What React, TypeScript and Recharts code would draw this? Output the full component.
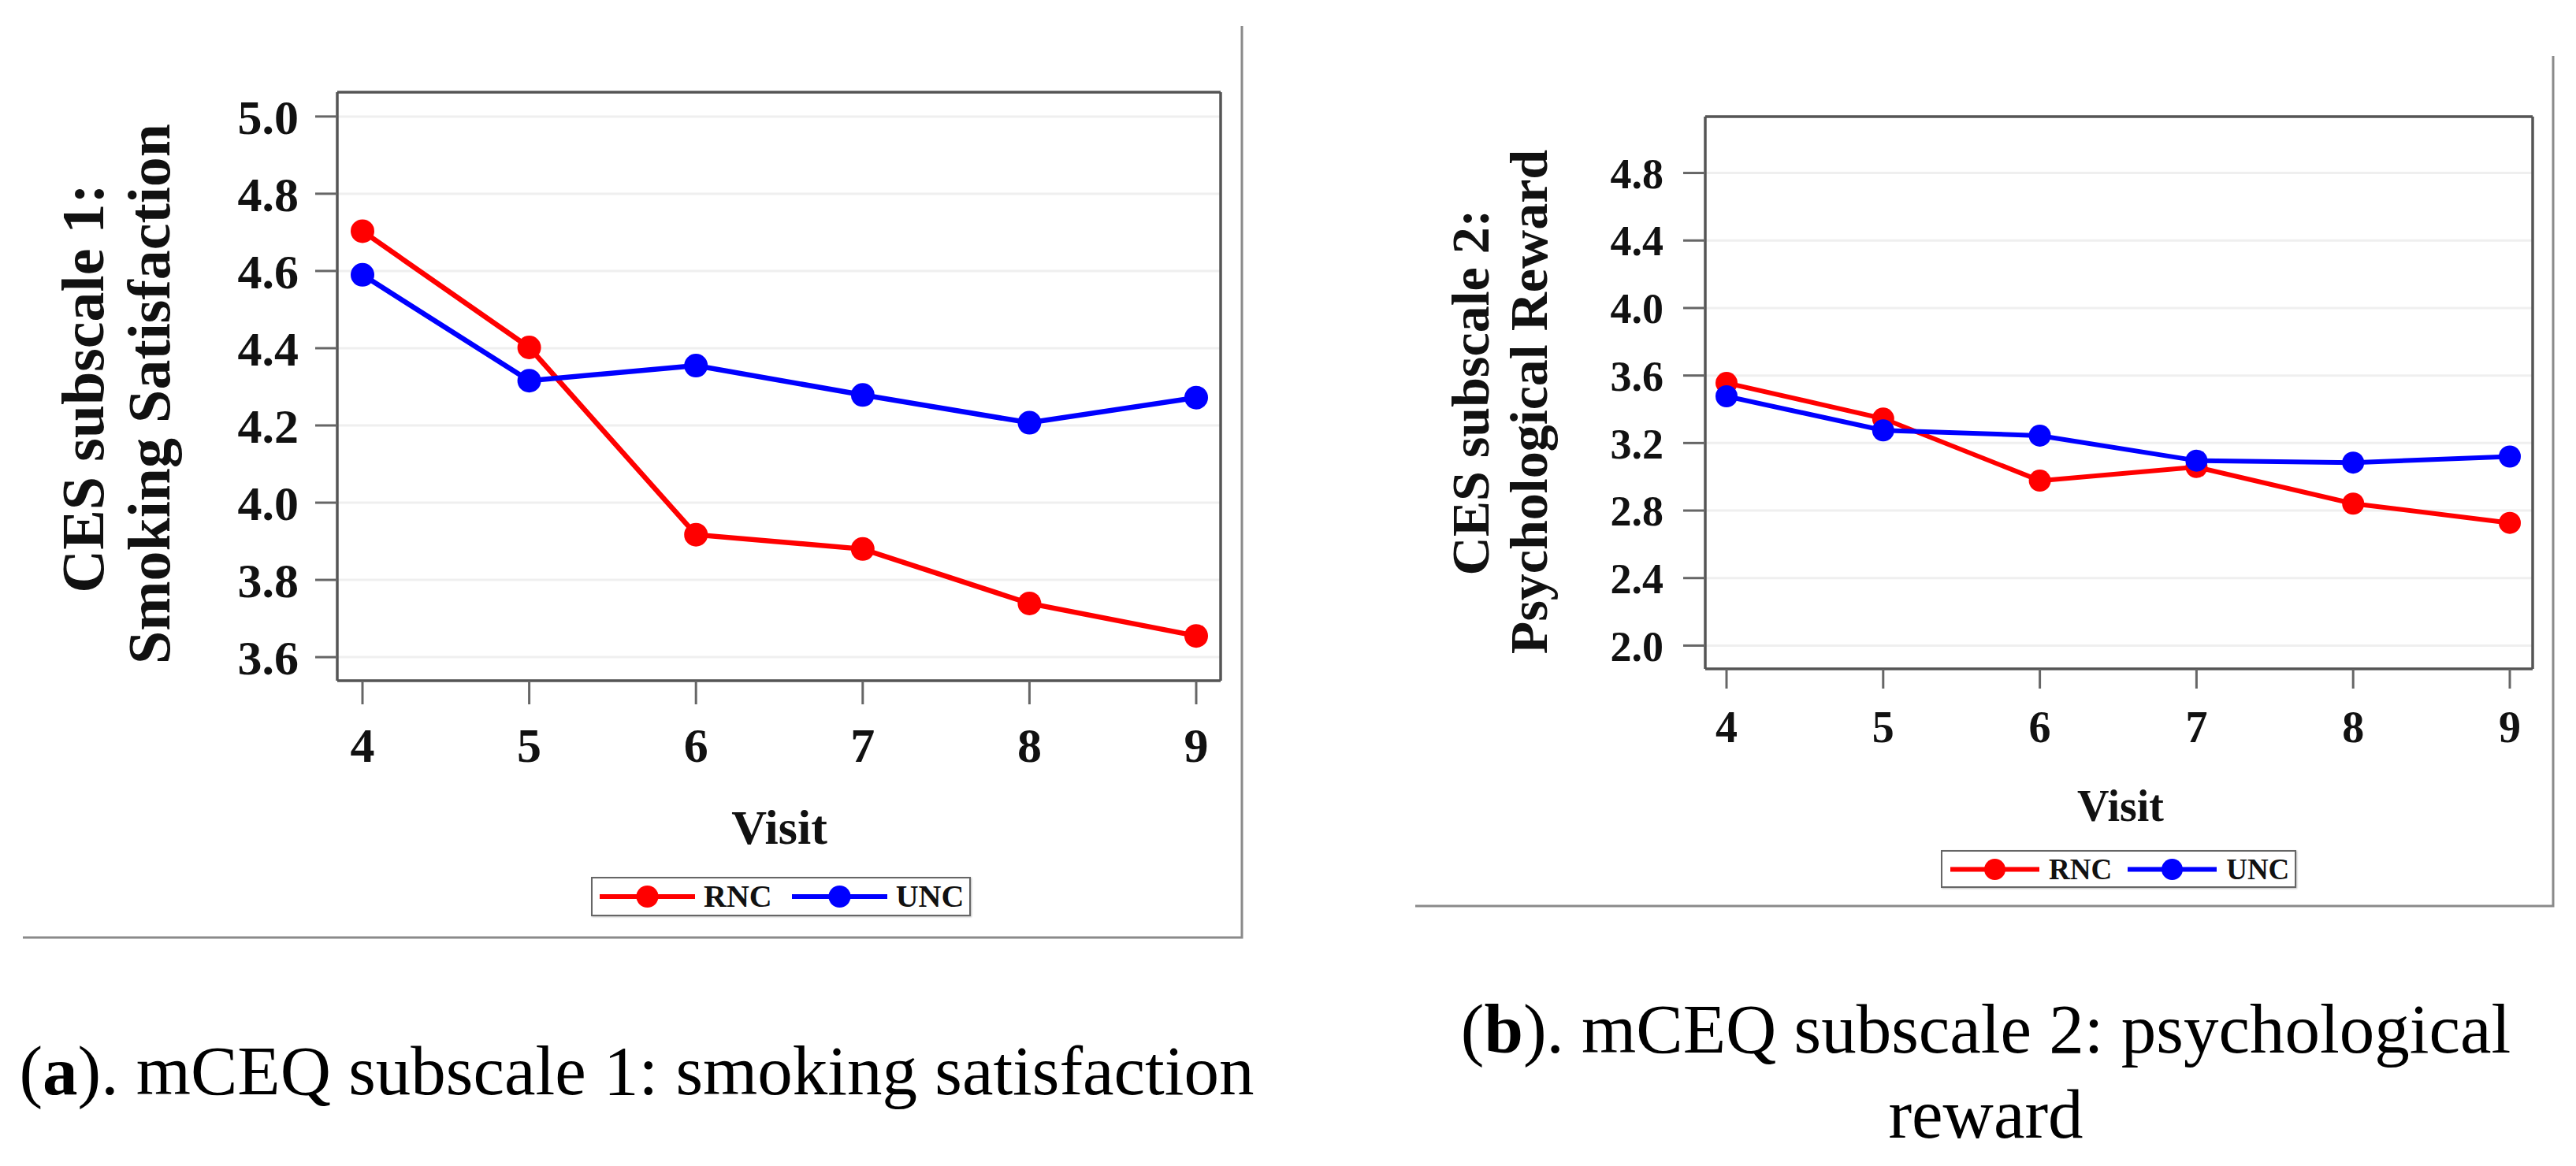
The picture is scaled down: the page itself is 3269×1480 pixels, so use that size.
import { LineChart, Line, XAxis, YAxis, CartesianGrid, Legend } from 'recharts'

// visits on the x axis
const visits = [4, 5, 6, 7, 8, 9]

// (a) CES subscale 1: smoking satisfaction
const satisfactionRNC = [4.703, 4.402, 3.917, 3.88, 3.739, 3.655]
const satisfactionUNC = [4.59, 4.316, 4.355, 4.279, 4.207, 4.272]
const satisfactionTicks = [3.6, 3.8, 4.0, 4.2, 4.4, 4.6, 4.8, 5.0]

// (b) CES subscale 2: psychological reward
const rewardRNC = [3.556, 3.345, 2.977, 3.058, 2.841, 2.727]
const rewardUNC = [3.477, 3.275, 3.244, 3.096, 3.084, 3.12]
const rewardTicks = [2.0, 2.4, 2.8, 3.2, 3.6, 4.0, 4.4, 4.8]

const SERIF = '"Liberation Serif", "Times New Roman", serif'
const FRAME = '#555555'

type LegendOpts = {
  left: number
  top: number
  width: number
  height: number
  fontSize: number
  lineLen: number
  r: number
  padLeft: number
  textGap: number
  itemGap: number
}

function LegendBox({ payload, o }: { payload?: any[]; o: LegendOpts }) {
  return (
    <div
      style={{
        boxSizing: 'border-box',
        width: o.width,
        height: o.height,
        border: '2.5px solid #666',
        boxShadow: '1px 1px 2px #bbb',
        display: 'flex',
        alignItems: 'center',
        paddingLeft: o.padLeft,
        background: '#fff',
      }}
    >
      {(payload || []).map((item: any, i: number) => (
        <div key={item.value} style={{ display: 'flex', alignItems: 'center', marginLeft: i === 0 ? 0 : o.itemGap }}>
          <svg width={o.lineLen} height={o.r * 2 + 2} style={{ display: 'block' }}>
            <line x1={0} x2={o.lineLen} y1={o.r + 1} y2={o.r + 1} stroke={item.color} strokeWidth={6} />
            <circle cx={o.lineLen / 2} cy={o.r + 1} r={o.r} fill={item.color} />
          </svg>
          <span
            style={{
              marginLeft: o.textGap,
              fontFamily: SERIF,
              fontWeight: 700,
              fontSize: o.fontSize,
              lineHeight: 1,
              color: '#111',
            }}
          >
            {item.value}
          </span>
        </div>
      ))}
    </div>
  )
}

type PanelProps = {
  left: number
  width: number
  rnc: number[]
  unc: number[]
  ticks: number[]
  domain: [number, number]
  margin: { top: number; right: number; bottom: number; left: number }
  padX: { left: number; right: number }
  yTickFont: number
  xTickFont: number
  yTickSize: number
  yTickMargin: number
  xTickSize: number
  xTickMargin: number
  dotR: number
  lineW: number
  legend: LegendOpts
}

function Panel(p: PanelProps) {
  const data = visits.map((v, i) => ({ visit: v, RNC: p.rnc[i], UNC: p.unc[i] }))
  const tickBase = { fontFamily: SERIF, fontWeight: 700, fill: '#111' }
  const frameLine = { stroke: FRAME, strokeWidth: 3.5 }
  const tickLine = { stroke: '#666', strokeWidth: 3 }
  return (
    <div style={{ position: 'absolute', left: p.left, top: 0 }}>
      <LineChart width={p.width} height={1200} data={data} margin={p.margin}>
        <CartesianGrid vertical={false} stroke="#efefef" strokeWidth={3} />
        <XAxis
          dataKey="visit"
          type="number"
          domain={[4, 9]}
          ticks={visits}
          padding={p.padX}
          height={100}
          axisLine={frameLine}
          tickSize={p.xTickSize}
          tickMargin={p.xTickMargin}
          tickLine={tickLine}
          tick={{ ...tickBase, fontSize: p.xTickFont }}
        />
        <XAxis
          xAxisId="top"
          orientation="top"
          dataKey="visit"
          type="number"
          domain={[4, 9]}
          padding={p.padX}
          height={1}
          tick={false}
          tickLine={false}
          axisLine={frameLine}
        />
        <YAxis
          type="number"
          domain={p.domain}
          ticks={p.ticks}
          width={120}
          axisLine={frameLine}
          tickSize={p.yTickSize}
          tickMargin={p.yTickMargin}
          tickLine={tickLine}
          tick={{ ...tickBase, fontSize: p.yTickFont }}
          tickFormatter={(v: number) => v.toFixed(1)}
        />
        <YAxis
          yAxisId="right"
          orientation="right"
          type="number"
          domain={p.domain}
          width={1}
          tick={false}
          tickLine={false}
          axisLine={frameLine}
        />
        <Legend
          layout="horizontal"
          verticalAlign="middle"
          align="center"
          wrapperStyle={{ left: p.legend.left, top: p.legend.top, width: p.legend.width, height: p.legend.height }}
          content={(props: any) => <LegendBox payload={props.payload} o={p.legend} />}
        />
        <Line
          dataKey="RNC"
          name="RNC"
          stroke="#ff0000"
          strokeWidth={p.lineW}
          dot={{ r: p.dotR, fill: '#ff0000', stroke: 'none' }}
          isAnimationActive={false}
        />
        <Line
          dataKey="UNC"
          name="UNC"
          stroke="#0000ff"
          strokeWidth={p.lineW}
          dot={{ r: p.dotR, fill: '#0000ff', stroke: 'none' }}
          isAnimationActive={false}
        />
      </LineChart>
    </div>
  )
}

export default function App() {
  return (
    <div style={{ position: 'absolute', left: 0, top: 0, width: 3269, height: 1480, background: '#fff' }}>
      <Panel
        left={0}
        width={1600}
        rnc={satisfactionRNC}
        unc={satisfactionUNC}
        ticks={satisfactionTicks}
        domain={[3.539, 5.063]}
        margin={{ top: 116, right: 50, bottom: 236, left: 308 }}
        padX={{ left: 32, right: 31 }}
        yTickFont={62}
        xTickFont={62}
        yTickSize={28}
        yTickMargin={21}
        xTickSize={30}
        xTickMargin={29}
        dotR={15}
        lineW={6.5}
        legend={{ left: 750, top: 1113, width: 482, height: 50, fontSize: 40, lineLen: 121, r: 14, padLeft: 9, textGap: 11, itemGap: 25 }}
      />
      <Panel
        left={1640}
        width={1629}
        rnc={rewardRNC}
        unc={rewardUNC}
        ticks={rewardTicks}
        domain={[1.862, 5.134]}
        margin={{ top: 147, right: 54, bottom: 251, left: 404 }}
        padX={{ left: 27, right: 29 }}
        yTickFont={54}
        xTickFont={56}
        yTickSize={28}
        yTickMargin={25}
        xTickSize={25}
        xTickMargin={28}
        dotR={14}
        lineW={6}
        legend={{ left: 823, top: 1079, width: 451, height: 48, fontSize: 37, lineLen: 113, r: 13.5, padLeft: 10, textGap: 12, itemGap: 20 }}
      />
      <svg width={3269} height={1480} style={{ position: 'absolute', left: 0, top: 0, pointerEvents: 'none' }}>
        <polyline points="29,1190 1576,1190 1576,33" fill="none" stroke="#8a8a8a" strokeWidth={3} />
        <polyline points="1796,1150 3240,1150 3240,71" fill="none" stroke="#8a8a8a" strokeWidth={3} />

        <g fontFamily={SERIF} fontWeight={700} fill="#111" textAnchor="middle">
          <text fontSize={76} transform="translate(131,493) rotate(-90)">CES subscale 1:</text>
          <text fontSize={76} transform="translate(215,500) rotate(-90)">Smoking Satisfaction</text>
          <text fontSize={68} transform="translate(1889,498) rotate(-90)">CES subscale 2:</text>
          <text fontSize={68} transform="translate(1963,510) rotate(-90)">Psychological Reward</text>
          <text fontSize={62} x={989} y={1071}>Visit</text>
          <text fontSize={56} x={2691} y={1042}>Visit</text>
        </g>

        <g fontFamily={SERIF} fill="#000" textAnchor="middle" fontSize={89}>
          <text x={808} y={1389}>
            (<tspan fontWeight={700}>a</tspan>). mCEQ subscale 1: smoking satisfaction
          </text>
          <text x={2520} y={1336}>
            (<tspan fontWeight={700}>b</tspan>). mCEQ subscale 2: psychological
          </text>
          <text x={2520} y={1444}>reward</text>
        </g>
      </svg>
    </div>
  )
}
